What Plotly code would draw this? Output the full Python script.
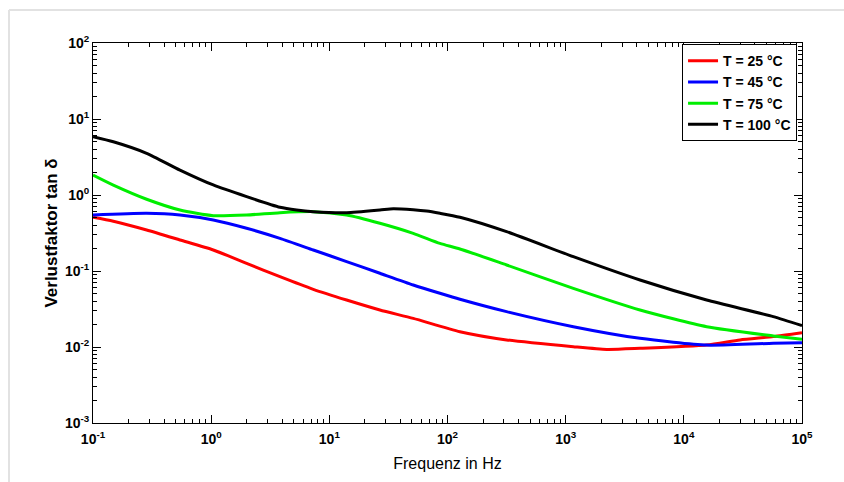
import plotly.graph_objects as go

# Dielectric loss factor tan(delta) vs. frequency at four temperatures
freq_25 = [0.1, 0.1486, 0.2844, 0.5445, 1.042, 1.995, 3.819, 7.311, 14.0, 26.79, 51.29, 127.4,
           316.2, 1161, 2223, 4256, 15600, 29850, 57150, 100000]
tan_25 = [0.509, 0.451, 0.346, 0.256, 0.189, 0.126, 0.0841, 0.0574, 0.0415, 0.0307, 0.0238, 0.0159,
          0.0124, 0.0101, 0.0093, 0.0096, 0.0106, 0.0124, 0.0137, 0.0154]

freq_45 = [0.1, 0.2844, 0.5445, 1.042, 1.995, 3.819, 7.311, 14.0, 26.79, 51.29, 86.30, 127.4,
           316.2, 1161, 4256, 15600, 57150, 100000]
tan_45 = [0.545, 0.574, 0.546, 0.469, 0.365, 0.269, 0.189, 0.133, 0.0933, 0.0655, 0.0509, 0.0425,
          0.0292, 0.0185, 0.0130, 0.0106, 0.0112, 0.0114]

freq_75 = [0.1, 0.1486, 0.2844, 0.5445, 1.042, 1.995, 3.819, 7.311, 14.0, 26.79, 51.29, 86.30,
           127.4, 316.2, 1161, 4256, 15600, 57150, 100000]
tan_75 = [1.83, 1.35, 0.88, 0.635, 0.535, 0.546, 0.585, 0.604, 0.546, 0.425, 0.313, 0.231,
          0.195, 0.120, 0.0591, 0.0307, 0.0185, 0.0140, 0.0126]

freq_100 = [0.1, 0.1486, 0.2844, 0.5445, 1.042, 1.995, 3.819, 5.285, 7.311, 14.0, 26.79, 34.75,
            51.29, 66.53, 86.30, 127.4, 316.2, 1161, 4256, 15600, 57150, 100000]
tan_100 = [5.85, 5.02, 3.54, 2.13, 1.355, 0.951, 0.689, 0.635, 0.604, 0.585, 0.635, 0.661,
           0.640, 0.615, 0.574, 0.509, 0.329, 0.1545, 0.0762, 0.0415, 0.0251, 0.0191]

series = [
    ("T = 25 °C", freq_25, tan_25, "#ff0000"),
    ("T = 45 °C", freq_45, tan_45, "#0000ff"),
    ("T = 75 °C", freq_75, tan_75, "#00ee00"),
    ("T = 100 °C", freq_100, tan_100, "#000000"),
]

# decade tick positions and labels
x_major = [0.1, 1, 10, 100, 1000, 10000, 100000]
x_labels = ["-1", "0", "1", "2", "3", "4", "5"]
y_major = [0.001, 0.01, 0.1, 1, 10, 100]
y_labels = ["-3", "-2", "-1", "0", "1", "2"]
minor_steps = [2, 3, 4, 5, 6, 7, 8, 9]

x_minor = [d * m for d in x_major[:-1] for m in minor_steps]
y_minor = [d * m for d in y_major[:-1] for m in minor_steps]

fig = go.Figure()
for name, fx, fy, color in series:
    fig.add_trace(go.Scatter(
        x=fx, y=fy, name=name, mode="lines",
        line=dict(color=color, width=3, shape="spline", smoothing=0.6),
    ))

# carrier trace for the overlaid minor-tick axes
fig.add_trace(go.Scatter(
    x=[x_major[0], x_major[-1]], y=[y_major[0], y_major[-1]],
    xaxis="x2", yaxis="y2", mode="lines", line=dict(width=0),
    showlegend=False, hoverinfo="skip",
))

FONT = "Liberation Sans, Arial, sans-serif"
tick_font = dict(family=FONT, size=14, color="#000000")
axis_common = dict(
    type="log",
    tickmode="array",
    showgrid=False,
    zeroline=False,
    showline=True,
    linecolor="#000000",
    linewidth=1,
    mirror="ticks",
    ticks="inside",
    tickcolor="#000000",
    tickwidth=1,
)

fig.update_layout(
    xaxis=dict(
        **axis_common,
        range=[-1, 5],
        tickvals=x_major,
        ticktext=[f"<b>10<sup>{e}</sup></b>" for e in x_labels],
        ticklen=8,
        tickfont=tick_font,
        ticklabelstandoff=3,
        title=dict(text="Frequenz in Hz", font=dict(family=FONT, size=16, color="#000000"),
                   standoff=12),
    ),
    yaxis=dict(
        **axis_common,
        range=[-3, 2],
        tickvals=y_major,
        ticktext=[f"<b>10<sup>{e}</sup></b>" for e in y_labels],
        ticklen=8,
        tickfont=tick_font,
        title=dict(text="<b>Verlustfaktor tan δ</b>", font=dict(family=FONT, size=17, color="#000000"),
                   standoff=2),
    ),
    xaxis2=dict(
        **axis_common,
        overlaying="x",
        range=[-1, 5],
        tickvals=x_minor,
        ticklen=4,
        showticklabels=False,
    ),
    yaxis2=dict(
        **axis_common,
        overlaying="y",
        range=[-3, 2],
        tickvals=y_minor,
        ticklen=4,
        showticklabels=False,
    ),
)

# light frame around the figure area
fig.add_shape(type="line", xref="paper", yref="paper",
              x0=-0.1185, x1=1.2, y0=1.0868, y1=1.0868,
              line=dict(color="#e2e2e2", width=2))
fig.add_shape(type="line", xref="paper", yref="paper",
              x0=-0.1185, x1=-0.1185, y0=-0.2, y1=1.0868,
              line=dict(color="#e2e2e2", width=2))

fig.update_layout(
    width=844, height=482,
    margin=dict(l=93, r=42, t=43, b=59),
    paper_bgcolor="#ffffff",
    plot_bgcolor="#ffffff",
    showlegend=True,
    legend=dict(
        x=0.993, y=0.997, xanchor="right", yanchor="top",
        bgcolor="#ffffff", bordercolor="#000000", borderwidth=1,
        font=dict(family=FONT, size=14, color="#000000", weight="bold"),
        itemwidth=30, tracegroupgap=0,
    ),
)

fig.write_html("out.html")
